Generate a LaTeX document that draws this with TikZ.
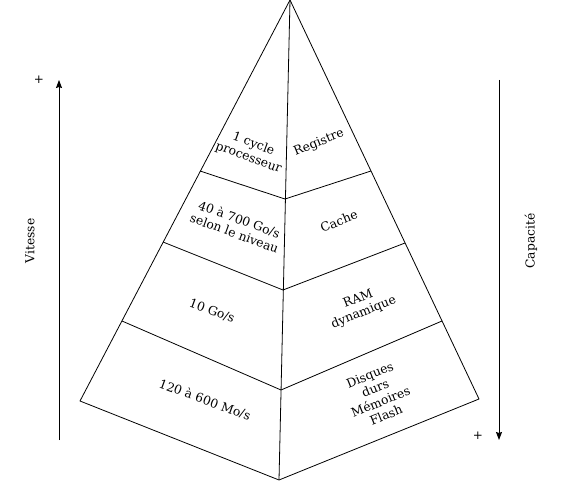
\documentclass[tikz,border=0pt]{standalone}
\usepackage{fontspec}
\setmainfont{DejaVu Serif}
\usetikzlibrary{arrows.meta}
\begin{document}
\begin{tikzpicture}[x=1pt,y=-1pt, line width=0.8pt, line join=round,
  lbl/.style={font=\fontsize{12.3}{14.5}\selectfont, align=center, inner sep=0pt},
  axis/.style={-{Stealth[length=8pt,width=6pt,inset=1pt]}},
  sign/.style={font=\fontsize{12}{14}\selectfont, inner sep=0pt}]
\useasboundingbox (0,0) rectangle (564,489);
% pyramid vertices
\coordinate (apex) at (290,0);
\coordinate (L1) at (200,171); \coordinate (M1) at (285,199); \coordinate (R1) at (371,171);
\coordinate (L2) at (163,242); \coordinate (M2) at (283,290); \coordinate (R2) at (405,243);
\coordinate (L3) at (122,321); \coordinate (M3) at (281,390); \coordinate (R3) at (442,321);
\coordinate (BL) at (80,401);  \coordinate (BM) at (279,480); \coordinate (BR) at (479,399);
% outline
\draw (apex) -- (BL) -- (BM) -- (BR) -- cycle;
\draw (apex) -- (BM);
\draw (L1) -- (M1) -- (R1);
\draw (L2) -- (M2) -- (R2);
\draw (L3) -- (M3) -- (R3);
% labels
\node[lbl, rotate=-20] (t1) at (251,151) {1 cycle\\processeur};
\node[lbl, rotate=22]  (r1) at (319,143) {Registre};
\node[lbl, rotate=-20] (t2) at (237,226) {40 à 700 Go/s\\selon le niveau};
\node[lbl, rotate=22]  (r2) at (339,221) {Cache};
\node[lbl, rotate=-20] (t3) at (212,311) {10 Go/s};
\node[lbl, rotate=22]  (r3) at (361,306) {RAM\\dynamique};
\node[lbl, rotate=-20] (t4) at (205,400) {120 à 600 Mo/s};
\node[lbl, rotate=22]  (r4) at (378,395) {Disques\\durs\\Mémoires\\Flash};
% axes
\coordinate (vb) at (59,440); \coordinate (vt) at (59,80);
\coordinate (ct) at (499,80); \coordinate (cb) at (499,440);
\draw[axis] (vb) -- (vt);
\draw[axis] (ct) -- (cb);
\node[lbl, rotate=90] (vit) at (30,241) {Vitesse};
\node[lbl, rotate=90] (cap) at (531,241) {Capacité};
\node[sign] (p1) at (39,80) {+};
\node[sign] (p2) at (478,436) {+};
\end{tikzpicture}
\end{document}
